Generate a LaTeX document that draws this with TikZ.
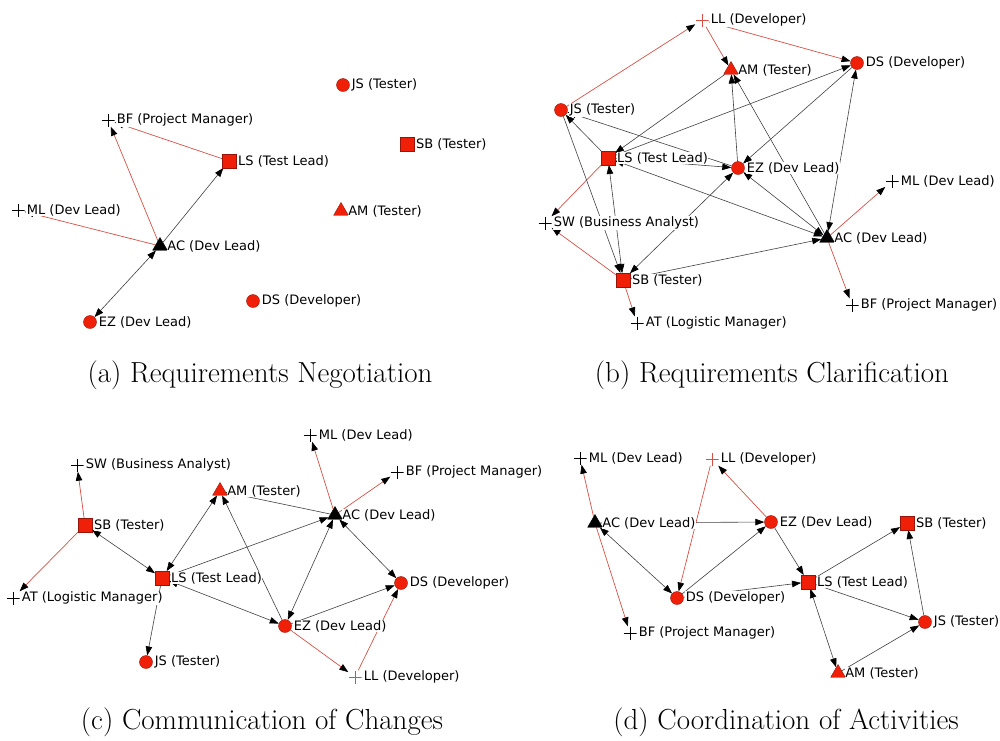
\documentclass[tikz,border=0pt]{standalone}
\usepackage{fontspec}
\newfontfamily\lblfont{DejaVu Sans}
\usetikzlibrary{arrows.meta}
\usetikzlibrary{shapes.geometric}
\usetikzlibrary{backgrounds}

\definecolor{nodered}{RGB}{240,32,8}
\definecolor{rimred}{RGB}{150,20,10}
\definecolor{edgered}{RGB}{214,80,72}

\begin{document}
\begin{tikzpicture}[x=1pt,y=-1pt,
  >={Triangle[length=9pt,width=6.5pt,black]},
  font=\lblfont\fontsize{13}{15}\selectfont,
  label distance=1.5pt,
  every label/.style={fill=white,inner sep=0.5pt},
  dev/.style={circle,draw=rimred,fill=nodered,minimum size=13pt,inner sep=0pt},
  lead/.style={rectangle,draw=rimred,fill=nodered,minimum size=13.5pt,inner sep=0pt},
  tst/.style={regular polygon,regular polygon sides=3,draw=rimred,fill=nodered,
    minimum size=17pt,inner sep=0pt},
  devtri/.style={tst,draw=black,fill=black},
  mgr/.style={rectangle,minimum size=13pt,inner sep=0pt,
    path picture={\draw[#1,line width=.6pt]
      (path picture bounding box.north) -- (path picture bounding box.south)
      (path picture bounding box.west) -- (path picture bounding box.east);}},
  mgr/.default=black,
  lnk/.style={draw=black!75,line width=.6pt,->},
  lnkb/.style={lnk,<->},
  rlnk/.style={draw=edgered,line width=.7pt,->},
  caption/.style={font=\rmfamily\fontsize{29}{33}\selectfont,anchor=base}]
  \useasboundingbox (0,0) rectangle (1000,740);

  % (a) negotiation
  \node[dev,label=right:JS (Tester)] (aJS) at (343,85) {};
  \node[mgr,label=right:BF (Project Manager)] (aBF) at (108,120) {};
  \node[lead,label=right:SB (Tester)] (aSB) at (407,144) {};
  \node[lead,label=right:LS (Test Lead)] (aLS) at (229,161) {};
  \node[mgr,label=right:ML (Dev Lead)] (aML) at (18,210) {};
  \node[tst,label=right:AM (Tester)] (aAM) at (341,211) {};
  \node[devtri,label=right:AC (Dev Lead)] (aAC) at (160,246) {};
  \node[dev,label=right:DS (Developer)] (aDS) at (253,301) {};
  \node[dev,label=right:EZ (Dev Lead)] (aEZ) at (90,322) {};

  % (b) clarification
  \node[mgr=edgered,label=right:LL (Developer)] (bLL) at (702,20) {};
  \node[tst,label=right:AM (Tester)] (bAM) at (731,70) {};
  \node[dev,label=right:DS (Developer)] (bDS) at (857,63) {};
  \node[dev,label=right:JS (Tester)] (bJS) at (561,110) {};
  \node[lead,label=right:LS (Test Lead)] (bLS) at (608,158) {};
  \node[dev,label=right:EZ (Dev Lead)] (bEZ) at (738,168) {};
  \node[mgr,label=right:ML (Dev Lead)] (bML) at (892,181) {};
  \node[mgr,label=right:SW (Business Analyst)] (bSW) at (545,223) {};
  \node[devtri,label=right:AC (Dev Lead)] (bAC) at (827,238) {};
  \node[lead,label=right:SB (Tester)] (bSB) at (623,280) {};
  \node[mgr,label=right:BF (Project Manager)] (bBF) at (852,305) {};
  \node[mgr,label=right:AT (Logistic Manager)] (bAT) at (637,323) {};

  % (c) changes
  \node[mgr,label=right:ML (Dev Lead)] (cML) at (310,435) {};
  \node[mgr,label=right:SW (Business Analyst)] (cSW) at (77,465) {};
  \node[mgr,label=right:BF (Project Manager)] (cBF) at (397,472) {};
  \node[tst,label=right:AM (Tester)] (cAM) at (220,491) {};
  \node[devtri,label=right:AC (Dev Lead)] (cAC) at (335,515) {};
  \node[lead,label=right:SB (Tester)] (cSB) at (85,525) {};
  \node[lead,label=right:LS (Test Lead)] (cLS) at (162,578) {};
  \node[mgr,label=right:AT (Logistic Manager)] (cAT) at (13,598) {};
  \node[dev,label=right:DS (Developer)] (cDS) at (401,583) {};
  \node[dev,label=right:EZ (Dev Lead)] (cEZ) at (285,626) {};
  \node[dev,label=right:JS (Tester)] (cJS) at (146,662) {};
  \node[mgr=edgered,label=right:LL (Developer)] (cLL) at (355,677) {};

  % (d) coordination
  \node[mgr,label=right:ML (Dev Lead)] (dML) at (580,458) {};
  \node[mgr=edgered,label=right:LL (Developer)] (dLL) at (712,459) {};
  \node[devtri,label=right:AC (Dev Lead)] (dAC) at (595,523) {};
  \node[dev,label=right:EZ (Dev Lead)] (dEZ) at (771,522) {};
  \node[lead,label=right:SB (Tester)] (dSB) at (907,523) {};
  \node[lead,label=right:LS (Test Lead)] (dLS) at (808,582) {};
  \node[dev,label=right:DS (Developer)] (dDS) at (677,598) {};
  \node[mgr,label=right:BF (Project Manager)] (dBF) at (630,633) {};
  \node[dev,label=right:JS (Tester)] (dJS) at (925,622) {};
  \node[tst,label=right:AM (Tester)] (dAM) at (838,673) {};

  \begin{scope}[on background layer]
    % red: manager / developer links
    \foreach \s/\t in {aLS/aBF,aAC/aBF,aAC/aML,
        bJS/bLL,bLL/bAM,bLL/bDS,bLS/bSW,bSB/bSW,bSB/bAT,bAC/bML,bAC/bBF,
        cSB/cSW,cSB/cAT,cAC/cML,cAC/cBF,cEZ/cLL,cLL/cDS,
        dAC/dML,dAC/dBF,dEZ/dLL,dLL/dDS}
      \draw[rlnk] (\s) -- (\t);
    % one way
    \foreach \s/\t in {aAC/aLS,
        bAM/bLS,bLS/bDS,bLS/bJS,bEZ/bJS,bLS/bEZ,bEZ/bAM,bAC/bAM,bDS/bEZ,bJS/bSB,bSB/bAC,
        cLS/cJS,cLS/cAC,cAC/cAM,cEZ/cAM,cEZ/cDS,
        dAC/dEZ,dDS/dEZ,dEZ/dLS,dDS/dLS,dLS/dSB,dLS/dJS,dJS/dSB,dAM/dJS}
      \draw[lnk] (\s) -- (\t);
    % both ways
    \foreach \s/\t in {aAC/aEZ,
        bAC/bDS,bLS/bSB,bSB/bEZ,bAC/bEZ,bLS/bAC,
        cSB/cLS,cLS/cAM,cLS/cEZ,cAC/cEZ,cAC/cDS,
        dAC/dDS,dLS/dAM}
      \draw[lnkb] (\s) -- (\t);
  \end{scope}

  \node[caption] (capA) at (260,382) {(a) Requirements Negotiation};
  \node[caption] (capB) at (772,382) {(b) Requirements Clarification};
  \node[caption] (capC) at (262,729) {(c) Communication of Changes};
  \node[caption] (capD) at (786,729) {(d) Coordination of Activities};
\end{tikzpicture}
\end{document}
